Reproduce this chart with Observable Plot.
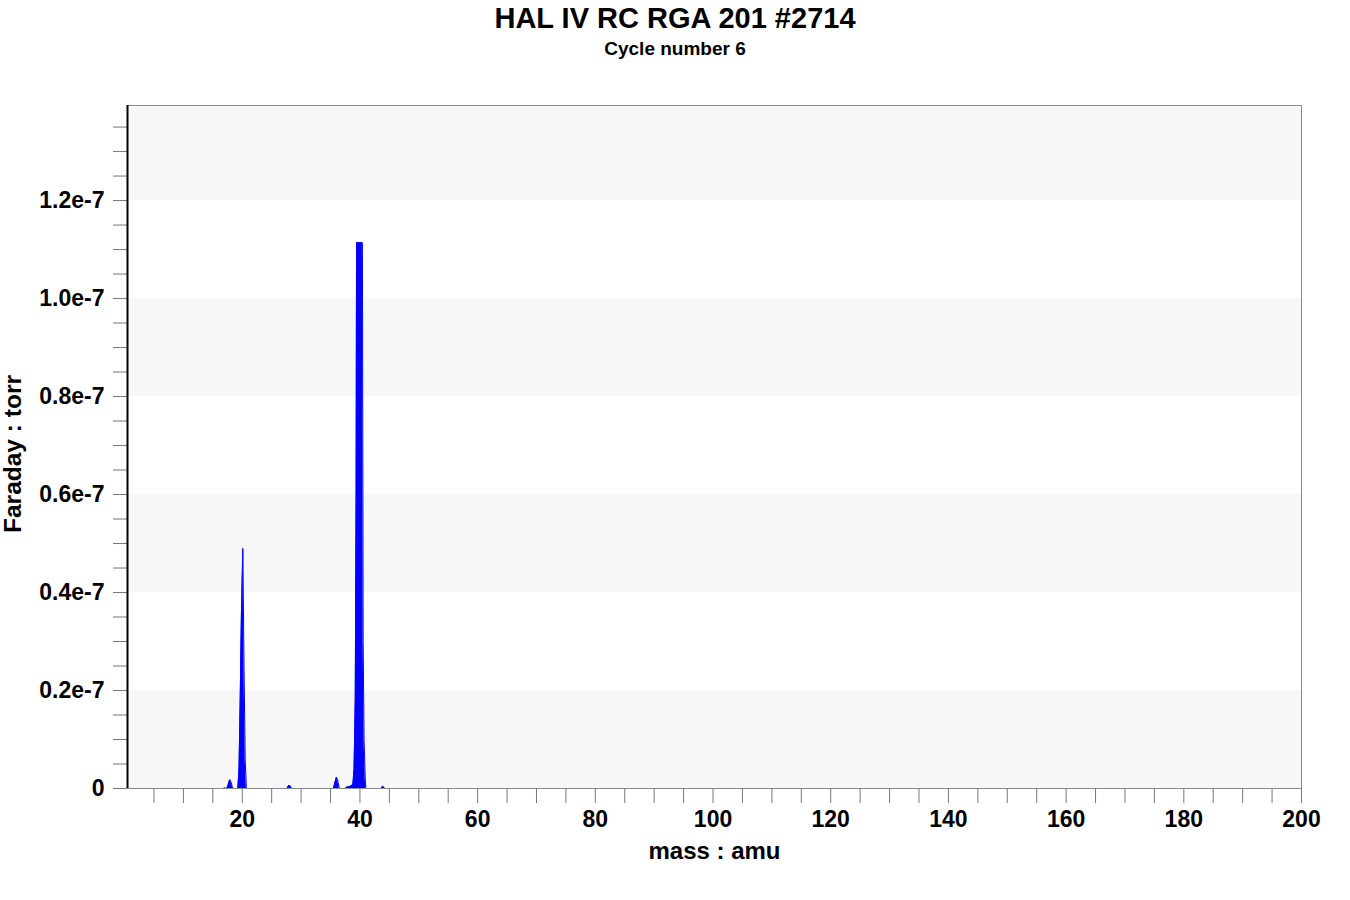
<!DOCTYPE html>
<html>
<head>
<meta charset="utf-8">
<script src="https://cdn.jsdelivr.net/npm/d3@7"></script>
<script src="https://cdn.jsdelivr.net/npm/@observablehq/plot@0.6"></script>
<style>
  html, body { margin: 0; padding: 0; background: #ffffff; }
  body { width: 1350px; height: 900px; overflow: hidden; font-family: "Liberation Sans", Arial, sans-serif; font-weight: bold; color: #000; }
  #title { height: 36px; line-height: 36px; font-size: 29px; text-align: center; }
  #subtitle { height: 26px; line-height: 26px; font-size: 19px; text-align: center; }
  #chart svg { display: block; }
</style>
</head>
<body>
<div id="title">HAL IV RC RGA 201 #2714</div>
<div id="subtitle">Cycle number 6</div>
<div id="chart"></div>
<script>
// Spectrum (mass in amu, Faraday pressure in torr)
const massAmu = [0.5, 16.6, 16.8, 17.0, 17.2, 17.5, 17.7, 17.9, 18.1, 18.3, 18.5,
  19.25, 19.45, 19.65, 19.85, 20.1, 20.3, 20.5, 20.7,
  27.6, 27.9, 28.1, 28.4,
  35.5, 35.75, 36.0, 36.2, 36.5,
  37.5, 37.8, 38.3, 38.8, 39.0, 39.2, 39.35, 39.42, 40.42, 40.55, 40.7, 40.9, 41.0,
  43.6, 43.9, 44.2, 200];
const pressureTorr = [0, 0, 0, 0.001e-7, 0, 0.002e-7, 0.012e-7, 0.018e-7, 0.013e-7, 0.004e-7, 0,
  0, 0.04e-7, 0.18e-7, 0.35e-7, 0.49e-7, 0.25e-7, 0.06e-7, 0,
  0, 0.006e-7, 0.006e-7, 0,
  0, 0.012e-7, 0.023e-7, 0.018e-7, 0,
  0, 0.003e-7, 0.004e-7, 0.008e-7, 0.04e-7, 0.18e-7, 0.6e-7, 1.114e-7, 1.114e-7, 0.3e-7, 0.1e-7, 0.02e-7, 0,
  0, 0.005e-7, 0, 0];

// Axis ticks
const xLabelTicks = [20, 40, 60, 80, 100, 120, 140, 160, 180, 200];
const xMinorTicks = d3.range(5, 201, 5);
const yLabelTicks = [0, 0.2e-7, 0.4e-7, 0.6e-7, 0.8e-7, 1.0e-7, 1.2e-7];
const yLabelText = ["0", "0.2e-7", "0.4e-7", "0.6e-7", "0.8e-7", "1.0e-7", "1.2e-7"];
const yMinorTicks = d3.range(0, 28).map(i => i * 0.05e-7);

// Alternating background bands (torr)
const bandLow = [0, 0.4e-7, 0.8e-7, 1.2e-7];
const bandHigh = [0.2e-7, 0.6e-7, 1.0e-7, 1.394e-7];

const xDomain = [0.5, 200];
const yDomain = [0, 1.394e-7];

const spectrum = massAmu.map((m, i) => ({m, p: pressureTorr[i]}));
const bands = bandLow.map((lo, i) => ({lo, hi: bandHigh[i]}));

const chart = Plot.plot({
  width: 1350,
  height: 838,
  marginLeft: 127,
  marginRight: 49,
  marginTop: 43,
  marginBottom: 112,
  x: {domain: xDomain, label: null},
  y: {domain: yDomain, label: null},
  style: {fontFamily: "'Liberation Sans', Arial, sans-serif", fontWeight: "bold", fontSize: "23px", color: "#000", background: "#fff"},
  marks: [
    Plot.rect(bands, {y1: "lo", y2: "hi", fill: "#f7f7f7"}),
    Plot.areaY(spectrum, {x: "m", y: "p", fill: "#0000ff"}),
    Plot.lineY(spectrum, {x: "m", y: "p", stroke: "#0000ff", strokeWidth: 1}),
    // frame top and right
    Plot.ruleY([yDomain[1]], {stroke: "#8a8a8a", strokeWidth: 1}),
    Plot.ruleX([xDomain[1]], {stroke: "#8a8a8a", strokeWidth: 1}),
    // x axis
    Plot.ruleY([0], {stroke: "#8a8a8a", strokeWidth: 1}),
    Plot.axisX(xMinorTicks, {tickSize: 15, stroke: "#777", tickFormat: () => "", label: null}),
    Plot.axisX(xLabelTicks, {tickSize: 0, tickPadding: 22, label: null, fontSize: 23, fontWeight: "bold"}),
    // y axis
    Plot.axisY(yMinorTicks, {tickSize: 14, stroke: "#777", tickFormat: () => "", label: null}),
    Plot.axisY(yLabelTicks, {tickSize: 0, tickPadding: 23, label: null, fontSize: 23, fontWeight: "bold",
      tickFormat: d => yLabelText[yLabelTicks.indexOf(d)]}),
    Plot.ruleX([xDomain[0]], {stroke: "#000", strokeWidth: 2}),
    // axis titles
    Plot.text(["mass : amu"], {frameAnchor: "bottom", dy: 70, text: d => d, fontSize: 24, fontWeight: "bold"}),
    Plot.text(["Faraday : torr"], {frameAnchor: "left", textAnchor: "middle", dx: -114, dy: 7, rotate: -90, text: d => d, fontSize: 24.5, fontWeight: "bold"})
  ]
});
document.getElementById("chart").appendChild(chart);
</script>
</body>
</html>
